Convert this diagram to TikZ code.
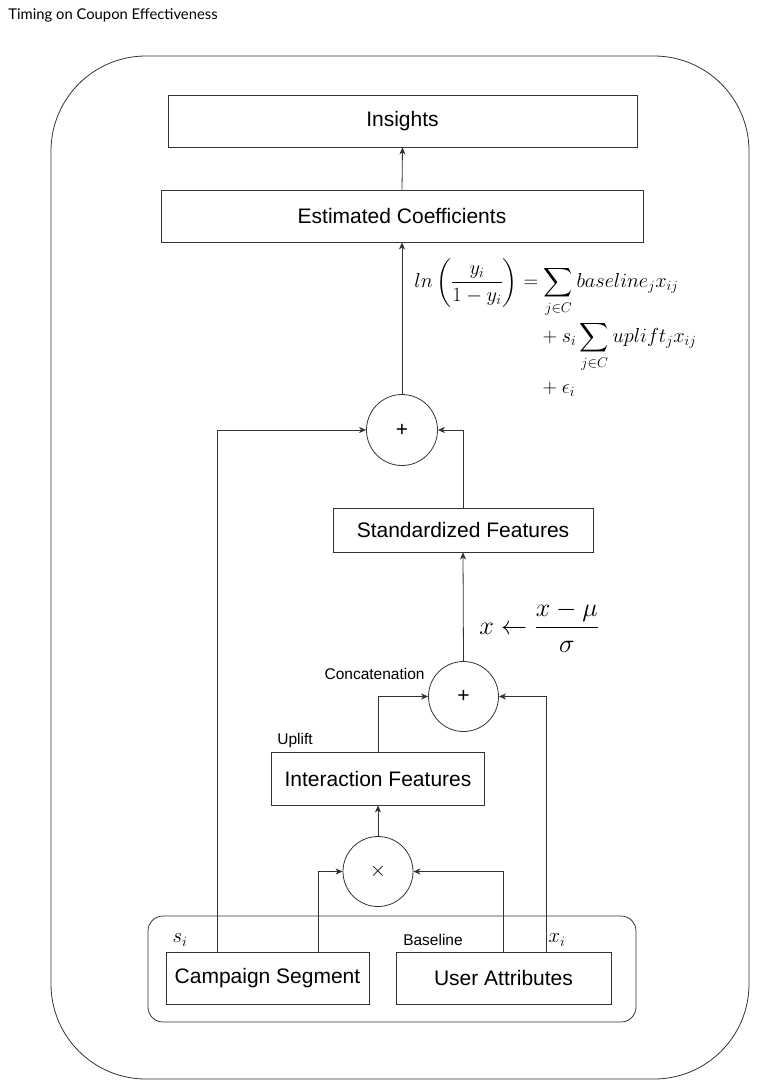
\documentclass[tikz,border=0pt]{standalone}
\usepackage{amsmath}
\usepackage{fontspec}
\setmainfont{Liberation Sans}
\newfontfamily\headfont{Lato}
\usetikzlibrary{arrows.meta}
\begin{document}
\begin{tikzpicture}[x=1pt,y=-1pt,
  line width=0.8pt,
  ln/.style={draw=black!80},
  arr/.style={ln,-{Stealth[length=7pt,width=6pt,inset=2pt]}},
  box/.style={draw=black!80,rectangle,inner sep=0pt,font=\fontsize{21}{24}\selectfont},
  op/.style={draw=black!80,circle,inner sep=0pt,minimum size=71pt,font=\fontsize{21}{24}\selectfont},
  lbl/.style={font=\fontsize{15.5}{18}\selectfont,inner sep=0pt}]
\useasboundingbox (0,0) rectangle (757,1087);
\node[anchor=west,inner sep=0pt,font=\headfont\fontsize{14.8}{17}\selectfont] (hdr) at (8,15) {Timing on Coupon Effectiveness};
% containers
\draw[ln,rounded corners=95pt] (51,56) rectangle (749,1079);
\draw[ln,rounded corners=15pt] (148,916) rectangle (636,1022);
% boxes
\node[box,minimum width=469pt,minimum height=52pt] (ins) at (402.5,121) {Insights};
\node[box,minimum width=482pt,minimum height=52pt] (est) at (402,216) {Estimated Coefficients};
\node[op] (plus1) at (402,430) {+};
\node[box,minimum width=260pt,minimum height=44pt] (std) at (463,530) {Standardized Features};
\node[op,minimum size=70pt] (plus2) at (463.5,696.5) {+};
\node[box,minimum width=213pt,minimum height=53pt] (inter) at (378,778.5) {Interaction Features};
\node[op,minimum size=70pt] (times) at (378,871.5) {$\times$};
\node[box,minimum width=203pt,minimum height=52pt] (camp) at (267.5,978) {Campaign Segment};
\node[box,minimum width=215pt,minimum height=52pt] (user) at (503.5,978) {User Attributes};
% labels
\node[lbl] (si) at (180,940) {\fontsize{20.74}{22}\selectfont$s_i$};
\node[lbl] (base) at (433,940) {Baseline};
\node[lbl] (xi) at (557,940) {\fontsize{20.74}{22}\selectfont$x_i$};
\node[lbl,anchor=east] (concat) at (425,674) {Concatenation};
\node[lbl,anchor=west] (upl) at (277,740) {Uplift};
\node[anchor=west,inner sep=0pt,scale=1.05,font=\fontsize{24.88}{30}\selectfont] (norm) at (479,627) {$x \leftarrow \dfrac{x-\mu}{\sigma}$};
\node[anchor=north west,inner sep=0pt,scale=1.175,font=\fontsize{17.28}{21}\selectfont] (eq) at (414,258) {$\begin{aligned}
 ln\left(\frac{y_i}{1-y_i}\right) &= \sum_{j\in C} baseline_j x_{ij}\\
 &\quad + s_i \sum_{j\in C} uplift_j x_{ij}\\
 &\quad + \epsilon_i
\end{aligned}$};
% connectors
\draw[arr] (est.north) -- (ins.south);
\draw[arr] (plus1.north) -- (est.south);
\draw[arr] (camp.north -| 217,0) |- (plus1.west);
\draw[arr] (std.north) |- (plus1.east);
\draw[arr] (plus2.north) -- (std.south);
\draw[arr] (inter.north) |- (plus2.west);
\draw[arr] (user.north -| 546,0) |- (plus2.east);
\draw[arr] (times.north) -- (inter.south);
\draw[arr] (camp.north -| 318.5,0) |- (times.west);
\draw[arr] (user.north) |- (times.east);
\end{tikzpicture}
\end{document}
